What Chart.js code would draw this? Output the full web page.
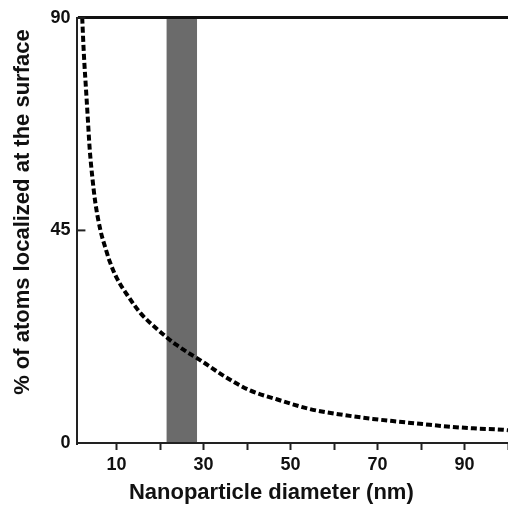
<!DOCTYPE html>
<html lang="en">
<head>
<meta charset="UTF-8">
<title>Surface atoms vs diameter</title>
<script src="https://cdn.jsdelivr.net/npm/chart.js"></script>
<style>
  body { margin: 0; background: #fff; overflow: hidden; }
  /* a bit wider than the window: the x tick padding eats 4px on the right */
  #box { width: 512px; height: 506px; }
</style>
</head>
<body>
<div id="box"><canvas id="grafico"></canvas></div>
<script>
// values
const diametro = [2.1, 2.5, 3.0, 3.4, 3.8, 4.4, 5.1, 6.3, 7.6, 8.4, 10, 13, 15.5, 19.1, 23.7, 29.8, 35, 40.5, 47, 54.4, 61, 68.9, 75, 80.4, 86, 92, 98.8, 100];
const superficie = [90, 82, 74.5, 68.5, 62.5, 56.5, 51, 45, 40.8, 38.5, 35, 30.6, 27.5, 24.3, 20.8, 17.2, 14, 11.2, 9.2, 7.2, 6.1, 5.1, 4.5, 4.0, 3.5, 3.1, 2.8, 2.7];
const faixa = [21.5, 28.5];          // shaded diameter range (nm)
const ticksX = [10, 20, 30, 40, 50, 60, 70, 80, 90, 100];
const rotulosX = ['10', '', '30', '', '50', '', '70', '', '90', ''];
const ticksY = [0, 45, 90];

const fonte = "'Liberation Sans', Arial, sans-serif";

// grey band behind everything, inward y tick marks on top
const faixaPlugin = {
  id: 'faixa',
  beforeDraw(chart) {
    const { ctx, chartArea, scales } = chart;
    const x1 = scales.x.getPixelForValue(faixa[0]);
    const x2 = scales.x.getPixelForValue(faixa[1]);
    ctx.save();
    ctx.fillStyle = '#6b6b6b';
    ctx.fillRect(x1, chartArea.top, x2 - x1, chartArea.bottom - chartArea.top);
    ctx.restore();
  },
  afterDraw(chart) {
    const { ctx, chartArea, scales } = chart;
    ctx.save();
    ctx.strokeStyle = '#222';
    ctx.lineWidth = 2;
    ticksY.forEach(v => {
      const y = scales.y.getPixelForValue(v);
      ctx.beginPath();
      ctx.moveTo(chartArea.left, y);
      ctx.lineTo(chartArea.left + 8, y);
      ctx.stroke();
    });
    ctx.restore();
  }
};

new Chart(document.getElementById('grafico'), {
  type: 'line',
  data: {
    datasets: [{
      data: diametro.map((d, i) => ({ x: d, y: superficie[i] })),
      borderColor: '#000',
      borderWidth: 4,
      borderDash: [6, 3],
      pointRadius: 0,
      cubicInterpolationMode: 'monotone',
      fill: false
    }]
  },
  options: {
    responsive: true,
    maintainAspectRatio: false,
    animation: false,
    layout: { padding: { top: 10, right: 0, left: 10, bottom: 0 } },
    plugins: { legend: { display: false }, tooltip: { enabled: false } },
    scales: {
      x: {
        type: 'linear',
        min: 1,
        max: 100,
        afterBuildTicks: s => { s.ticks = ticksX.map(v => ({ value: v })); },
        ticks: {
          callback: v => rotulosX[ticksX.indexOf(v)],
          autoSkip: false,
          maxRotation: 0,
          color: '#111',
          font: { family: fonte, size: 18, weight: 'bold' },
          padding: 4
        },
        grid: { drawOnChartArea: false, tickLength: 7, tickColor: '#222', tickWidth: 2 },
        border: { color: '#222', width: 2 },
        title: {
          display: true,
          text: 'Nanoparticle diameter (nm)       ',
          color: '#111',
          font: { family: fonte, size: 22, weight: 'bold' },
          padding: { top: 0, bottom: 0 }
        }
      },
      y: {
        min: 0,
        max: 90,
        afterBuildTicks: s => { s.ticks = ticksY.map(v => ({ value: v })); },
        ticks: {
          color: '#111',
          font: { family: fonte, size: 18, weight: 'bold' },
          padding: 7
        },
        grid: {
          drawTicks: false,
          color: c => (c.tick && c.tick.value === 90 ? '#111' : 'rgba(0,0,0,0)'),
          lineWidth: 3
        },
        border: { color: '#222', width: 2 },
        title: {
          display: true,
          text: '      % of atoms localized at the surface',
          color: '#111',
          font: { family: fonte, size: 22, weight: 'bold' },
          padding: { top: 0, bottom: 7 }
        }
      }
    }
  },
  plugins: [faixaPlugin]
});
</script>
</body>
</html>
